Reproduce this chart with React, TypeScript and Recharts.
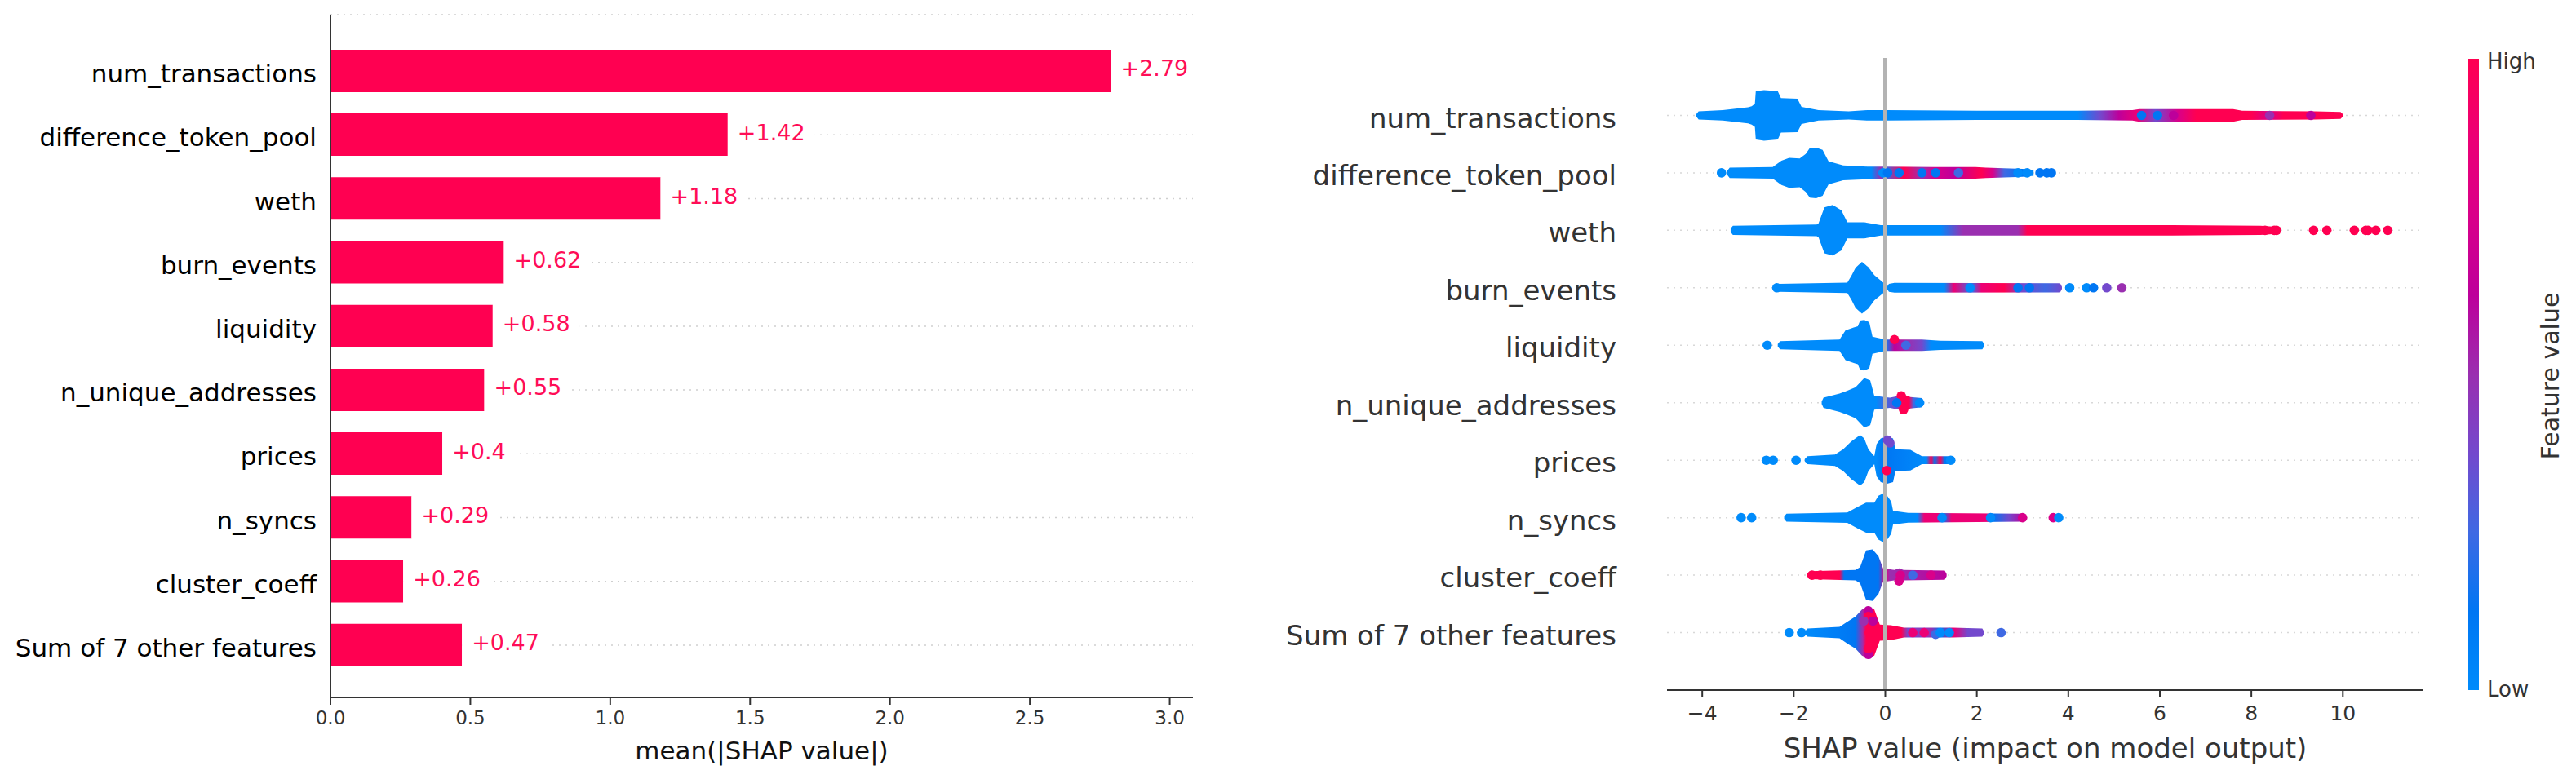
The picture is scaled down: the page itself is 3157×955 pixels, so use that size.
import { Bar, BarChart, CartesianGrid, LabelList, XAxis, YAxis, Area, ComposedChart, ReferenceLine, Scatter } from 'recharts';

const features = ['num_transactions', 'difference_token_pool', 'weth', 'burn_events', 'liquidity', 'n_unique_addresses', 'prices', 'n_syncs', 'cluster_coeff', 'Sum of 7 other features'];
const meanShap = [2.79, 1.42, 1.18, 0.62, 0.58, 0.55, 0.4, 0.29, 0.26, 0.47];

const barTicks = [0, 0.5, 1, 1.5, 2, 2.5, 3];
const swarmTicks = [-4, -2, 0, 2, 4, 6, 8, 10];

// silhouettes: [shap value, half height of the swarm in rows]
const numTransactionsShape = [[-4.13, 0.02], [-4.08, 0.07], [-3.55, 0.09], [-3.0, 0.14], [-2.92, 0.16], [-2.85, 0.2], [-2.83, 0.42], [-2.65, 0.44], [-2.35, 0.42], [-2.28, 0.3], [-1.92, 0.29], [-1.83, 0.15], [-1.46, 0.09], [-0.8, 0.07], [-0.4, 0.09], [0, 0.09], [2, 0.08], [4.2, 0.08], [5.4, 0.09], [5.55, 0.11], [7.6, 0.11], [7.8, 0.08], [9.4, 0.07], [9.95, 0.06], [10.0, 0.02]];
const differenceTokenShape = [[-3.46, 0.03], [-3.4, 0.09], [-2.46, 0.1], [-2.27, 0.21], [-2.1, 0.26], [-1.87, 0.25], [-1.74, 0.33], [-1.65, 0.43], [-1.51, 0.44], [-1.37, 0.4], [-1.24, 0.2], [-0.92, 0.13], [-0.4, 0.11], [0, 0.11], [1.09, 0.1], [1.97, 0.1], [2.2, 0.09], [3.0, 0.07], [3.24, 0.05]];
const wethShape = [[-3.38, 0.03], [-3.33, 0.08], [-1.5, 0.1], [-1.46, 0.12], [-1.33, 0.4], [-1.15, 0.44], [-0.96, 0.35], [-0.83, 0.14], [-0.46, 0.14], [-0.1, 0.09], [3, 0.09], [6.26, 0.09], [8.2, 0.08], [8.6, 0.06], [8.62, 0.02]];
const burnEventsShape = [[-2.39, 0.02], [-2.33, 0.07], [-0.83, 0.09], [-0.74, 0.21], [-0.65, 0.35], [-0.51, 0.45], [-0.37, 0.36], [-0.24, 0.22], [-0.01, 0.07], [0.03, 0.01], [0.08, 0.07], [0.2, 0.085], [3.82, 0.08], [3.86, 0.02]];
const liquidityShape = [[-2.35, 0.02], [-2.3, 0.07], [-1.0, 0.1], [-0.87, 0.26], [-0.69, 0.31], [-0.6, 0.33], [-0.55, 0.43], [-0.46, 0.44], [-0.35, 0.4], [-0.28, 0.15], [0, 0.1], [0.8, 0.1], [1.2, 0.08], [2.12, 0.07], [2.16, 0.02]];
const uniqueAddressesShape = [[-1.39, 0.02], [-1.35, 0.09], [-1.0, 0.16], [-0.83, 0.21], [-0.65, 0.27], [-0.46, 0.43], [-0.33, 0.39], [-0.24, 0.12], [0.1, 0.09], [0.3, 0.12], [0.41, 0.14], [0.55, 0.1], [0.8, 0.08], [0.85, 0.02]];
const pricesShape = [[-1.76, 0.02], [-1.7, 0.07], [-1.1, 0.1], [-0.92, 0.19], [-0.74, 0.33], [-0.55, 0.44], [-0.46, 0.38], [-0.37, 0.19], [-0.24, 0.07], [-0.19, 0.28], [-0.1, 0.38], [0.04, 0.41], [0.17, 0.38], [0.22, 0.19], [0.55, 0.18], [0.8, 0.07], [1.44, 0.07], [1.48, 0.02]];
const syncsShape = [[-2.21, 0.02], [-2.16, 0.07], [-0.83, 0.09], [-0.6, 0.19], [-0.42, 0.26], [-0.24, 0.26], [-0.15, 0.38], [-0.01, 0.44], [0.13, 0.28], [0.17, 0.12], [0.5, 0.085], [3.0, 0.07], [3.04, 0.02]];
const clusterCoeffShape = [[-1.71, 0.02], [-1.65, 0.07], [-0.65, 0.09], [-0.55, 0.14], [-0.42, 0.43], [-0.28, 0.45], [-0.15, 0.33], [-0.05, 0.12], [0.2, 0.09], [0.3, 0.12], [0.4, 0.09], [1.3, 0.08], [1.34, 0.02]];
const otherFeaturesShape = [[-1.76, 0.02], [-1.7, 0.07], [-1.0, 0.1], [-0.83, 0.19], [-0.65, 0.28], [-0.51, 0.4], [-0.37, 0.45], [-0.24, 0.4], [-0.12, 0.14], [0.12, 0.13], [0.41, 0.085], [1.48, 0.085], [2.12, 0.07], [2.16, 0.02]];

// tints along each swarm: [shap value, feature value 0..1]
const numTransactionsTint = [[-4.13, 0], [4.2, 0.05], [4.7, 0.4], [5.1, 0.65], [5.5, 0.85], [5.9, 0.4], [6.4, 0.7], [6.8, 0.95], [8.0, 1], [8.4, 0.75], [8.7, 1], [10, 1]];
const differenceTokenTint = [[-3.46, 0], [-0.3, 0.05], [-0.1, 0.55], [0, 0.3], [0.4, 1], [0.8, 0.5], [1.1, 0.8], [1.5, 0.65], [2.1, 0.95], [2.35, 0.8], [2.6, 0.3], [3.0, 0.1], [3.24, 0]];
const wethTint = [[-3.38, 0], [1.2, 0.05], [1.7, 0.45], [2.9, 0.5], [3.1, 0.95], [8.62, 1]];
const burnEventsTint = [[-2.39, 0], [1.29, 0.05], [1.5, 0.9], [1.9, 0.2], [2.1, 0.85], [2.6, 0.95], [3.0, 0.4], [3.5, 0.3], [3.86, 0.35]];
const liquidityTint = [[-2.35, 0], [0, 0.05], [0.2, 0.6], [0.5, 0.5], [0.8, 0.35], [1.0, 0.05], [2.16, 0]];
const uniqueAddressesTint = [[-1.39, 0], [-0.2, 0.05], [0, 0.3], [0.25, 0.4], [0.33, 0.95], [0.52, 1], [0.62, 0.2], [0.85, 0.1]];
const pricesTint = [[-1.76, 0], [-0.2, 0.05], [0, 0.1], [0.9, 0.05], [1.0, 0.95], [1.08, 0.1], [1.2, 0.95], [1.3, 0.1], [1.48, 0.05]];
const syncsTint = [[-2.21, 0], [0.7, 0.05], [0.85, 0.9], [1.15, 0.85], [1.25, 0.1], [1.45, 0.9], [2.2, 0.85], [2.35, 0.1], [2.7, 0.4], [3.04, 0.6]];
const clusterCoeffTint = [[-1.71, 1], [-1.0, 0.95], [-0.9, 0.1], [-0.15, 0.15], [0, 0.85], [0.1, 0.45], [1.34, 0.65]];
const otherFeaturesTint = [[-1.76, 0.05], [-0.65, 0.1], [-0.5, 0.55], [-0.42, 0.95], [0.35, 1], [0.5, 0.35], [1.0, 0.5], [1.2, 0.15], [1.5, 0.9], [1.8, 0.4], [2.16, 0.35]];

const swarmShapes = [numTransactionsShape, differenceTokenShape, wethShape, burnEventsShape, liquidityShape, uniqueAddressesShape, pricesShape, syncsShape, clusterCoeffShape, otherFeaturesShape];
const swarmTints = [numTransactionsTint, differenceTokenTint, wethTint, burnEventsTint, liquidityTint, uniqueAddressesTint, pricesTint, syncsTint, clusterCoeffTint, otherFeaturesTint];

// loose dots and visible speckles: [row, shap value, offset in rows, feature value]
const looseDots = [
  [0, 5.6, 0, 0.1], [0, 5.95, 0, 0.1], [0, 6.3, 0, 0.6], [0, 8.4, 0, 0.5], [0, 9.3, 0, 0.6],
  [1, -3.58, 0, 0], [1, -0.05, 0, 0.02], [1, 0.05, 0, 0.1], [1, 0.3, 0, 0.15], [1, 0.8, 0, 0.1], [1, 1.1, 0, 0.1], [1, 1.6, 0, 0.3], [1, 3.38, 0, 0.1], [1, 3.53, 0, 0.1], [1, 3.63, 0, 0.08], [1, 2.9, 0, 0.05], [1, 3.1, 0, 0.05],
  [2, 9.36, 0, 1], [2, 9.65, 0, 1], [2, 10.25, 0, 1], [2, 10.5, 0, 1], [2, 10.55, 0, 1], [2, 10.72, 0, 1], [2, 10.98, 0, 1], [2, 8.3, 0, 1], [2, 8.55, 0, 1], [2, 8.5, 0, 1],
  [3, -2.37, 0, 0], [3, 1.85, 0, 0.05], [3, 2.9, 0, 0.1], [3, 3.15, 0, 0.1], [3, 4.03, 0, 0.05], [3, 4.4, 0, 0.05], [3, 4.55, 0, 0.1], [3, 4.84, 0, 0.4], [3, 5.17, 0, 0.55],
  [4, -2.58, 0, 0], [4, 0.2, -0.1, 1], [4, 0.45, 0, 0.25],
  [5, 0.35, -0.12, 1], [5, 0.4, 0.12, 1], [5, 0.25, 0, 0.1], [5, 0.75, 0, 0.05],
  [6, -2.6, 0, 0], [6, -2.45, 0, 0], [6, -1.95, 0, 0], [6, 0.03, 0.18, 1], [6, 0.05, -0.35, 0.4], [6, 0.1, -0.3, 0.35], [6, 1.43, 0, 0.05],
  [7, -3.15, 0, 0], [7, -2.92, 0, 0], [7, 1.24, 0, 0.05], [7, 2.3, 0, 0.05], [7, 3.67, 0, 0.75], [7, 3.79, 0, 0.05], [7, 3.0, 0, 0.7],
  [8, -1.6, 0, 1], [8, -1.42, 0, 1], [8, 0.33, 0, 0.7], [8, 0.3, 0.1, 0.7], [8, 0.6, 0, 0.3], [8, 1.0, 0, 0.7],
  [9, -2.1, 0, 0], [9, -1.83, 0, 0.05], [9, -0.37, -0.38, 0.6], [9, -0.37, 0.38, 0.6], [9, -0.37, -0.28, 1], [9, -0.37, 0.28, 1], [9, -0.47, -0.2, 0.55], [9, -0.27, -0.2, 0.6], [9, -0.35, 0, 1], [9, 0.6, 0, 0.9], [9, 0.85, 0, 0.9], [9, 1.1, 0.03, 0.3], [9, 1.2, 0, 0.05], [9, 1.4, 0, 0.05], [9, 2.53, 0, 0.25],
];

// low to high
const colormap = ['#008bfb', '#0076f3', '#3f69e3', '#7349cd', '#9a2fb0', '#bd009b', '#d9008a', '#ec0075', '#ff0051'];

function tint(value: number) {
  return colormap[Math.round(value * (colormap.length - 1))];
}

const swarmRows = swarmShapes.map((shape, row) =>
  shape.map(([shap, spread]) => ({ shap, band: [row - spread, row + spread] }))
);
const swarmDots = looseDots.map(([row, shap, offset, value]) => ({ shap, pos: row + offset, value }));

const font = 'DejaVu Sans';

function BarValueLabel(props: any) {
  const { x, y, width, height, value } = props;
  const text = `+${value}`;
  const left = x + width;
  return (
    <g>
      <rect x={left} y={y} width={text.length * 17 + 22} height={height} fill="#fff" />
      <text x={left + 12} y={y + height / 2 - 3} dominantBaseline="central" fontSize={27} fontFamily={font} fill="#ff0d57">{text}</text>
    </g>
  );
}

function SwarmDot(props: any) {
  return <circle cx={props.cx} cy={props.cy} r={5.8} fill={tint(props.payload.value)} />;
}

function ImportanceBars() {
  const data = features.map((name, i) => ({ name, value: meanShap[i] }));
  return (
    <BarChart
      width={1500}
      height={955}
      data={data}
      layout="vertical"
      barCategoryGap="16.5%"
      margin={{ top: 18, right: 38, bottom: 40, left: 5 }}
      style={{ position: 'absolute', left: 0, top: 0 }}
    >
      <CartesianGrid horizontal vertical={false} stroke="#cfcfcf" strokeDasharray="2 6" strokeWidth={1.5} />
      <XAxis
        type="number"
        domain={[0, 3.083]}
        ticks={barTicks}
        tickFormatter={(v: number) => v.toFixed(1)}
        allowDataOverflow
        stroke="#333"
        strokeWidth={2}
        tick={{ fill: '#333', fontSize: 23, fontFamily: font }}
        tickSize={9}
        tickMargin={8}
        height={60}
        label={{ value: 'mean(|SHAP value|)', position: 'insideBottom', offset: -16, fontSize: 31, fontFamily: font, fill: '#111' }}
      />
      <YAxis
        type="category"
        dataKey="name"
        width={400}
        padding={{ top: 30, bottom: 25 }}
        stroke="#333"
        strokeWidth={2}
        tickLine={false}
        interval={0}
        tickMargin={11}
        tick={{ fill: '#000', fontSize: 31, fontFamily: font, dy: 3 }}
      />
      <Bar dataKey="value" fill="#ff0051" isAnimationActive={false}>
        <LabelList dataKey="value" content={BarValueLabel} />
      </Bar>
    </BarChart>
  );
}

function SwarmPlot() {
  return (
    <ComposedChart
      width={1600}
      height={955}
      margin={{ top: 71, right: 130, bottom: 39, left: 143 }}
      style={{ position: 'absolute', left: 1500, top: 0 }}
    >
      <defs>
        {swarmTints.map((stops, row) => {
          const shape = swarmShapes[row];
          const low = shape[0][0];
          const high = shape[shape.length - 1][0];
          return (
            <linearGradient key={row} id={`swarm-tint-${row}`} x1="0" x2="1" y1="0" y2="0">
              {stops.map(([shap, value], i) => (
                <stop key={i} offset={(shap - low) / (high - low)} stopColor={tint(value)} />
              ))}
            </linearGradient>
          );
        })}
      </defs>
      <CartesianGrid
        horizontal
        vertical={false}
        horizontalValues={features.map((_, i) => i)}
        stroke="#d8d8d8"
        strokeDasharray="2 6"
        strokeWidth={1.5}
      />
      <XAxis
        type="number"
        dataKey="shap"
        domain={[-4.77, 11.76]}
        ticks={swarmTicks}
        allowDataOverflow
        stroke="#333"
        strokeWidth={2}
        tick={{ fill: '#333', fontSize: 25, fontFamily: font }}
        tickSize={9}
        tickMargin={10}
        tickFormatter={(v: number) => String(v).replace('-', '\u2212')}
        height={70}
        label={{ value: 'SHAP value (impact on model output)', position: 'insideBottom', offset: -13, fontSize: 34, fontFamily: font, fill: '#333' }}
      />
      <YAxis
        type="number"
        dataKey="pos"
        domain={[-1, 10]}
        reversed
        ticks={features.map((_, i) => i)}
        interval={0}
        allowDataOverflow
        axisLine={false}
        tickLine={false}
        width={400}
        tickMargin={56}
        tickFormatter={(v: number) => features[v]}
        tick={{ fill: '#333', fontSize: 34, fontFamily: font, dy: 3 }}
      />
      <ReferenceLine x={0} stroke="#b3b3b3" strokeWidth={5} />
      {swarmRows.map((data, row) => (
        <Area
          key={row}
          data={data}
          dataKey="band"
          type="linear"
          stroke="none"
          fill={`url(#swarm-tint-${row})`}
          fillOpacity={1}
          dot={false}
          activeDot={false}
          isAnimationActive={false}
        />
      ))}
      <Scatter data={swarmDots} shape={SwarmDot} isAnimationActive={false} />
    </ComposedChart>
  );
}

function ColorBar() {
  const textStyle = { position: 'absolute', fontFamily: font, color: '#333' } as const;
  return (
    <>
      <div
        style={{
          position: 'absolute',
          left: 3025,
          top: 72,
          width: 13,
          height: 774,
          background: `linear-gradient(to top, ${colormap.join(', ')})`,
        }}
      />
      <div style={{ ...textStyle, left: 3048, top: 60, fontSize: 26 }}>High</div>
      <div style={{ ...textStyle, left: 3048, top: 830, fontSize: 26 }}>Low</div>
      <div
        style={{
          ...textStyle,
          left: 3125,
          top: 461,
          fontSize: 30,
          whiteSpace: 'nowrap',
          transform: 'translate(-50%, -50%) rotate(-90deg)',
        }}
      >
        Feature value
      </div>
    </>
  );
}

export default function App() {
  return (
    <div style={{ position: 'absolute', left: 0, top: 0, width: 3157, height: 955, background: '#fff', overflow: 'hidden' }}>
      <ImportanceBars />
      <SwarmPlot />
      <ColorBar />
    </div>
  );
}
